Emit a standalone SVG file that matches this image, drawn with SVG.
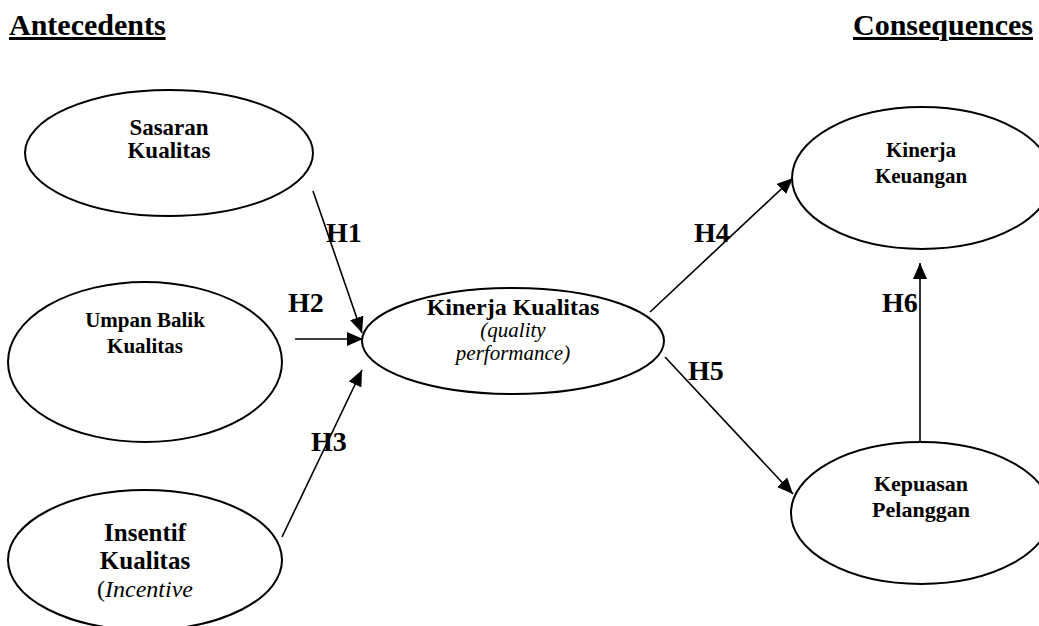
<svg xmlns="http://www.w3.org/2000/svg" width="1039" height="626" viewBox="0 0 1039 626">
<style>
.e{fill:#fff;stroke:#000;stroke-width:2}
.t{font-family:"Liberation Serif","Times New Roman",serif;font-weight:bold;fill:#000;text-anchor:middle}
.i{font-family:"Liberation Serif","Times New Roman",serif;font-style:italic;fill:#000;text-anchor:middle}
.h{font-family:"Liberation Serif","Times New Roman",serif;font-weight:bold;font-size:28px;fill:#000}
.hd{font-family:"Liberation Serif","Times New Roman",serif;font-weight:bold;font-size:30px;fill:#000;text-decoration:underline}
.c{stroke:#000;stroke-width:1.6;fill:none;marker-end:url(#a)}
</style>
<defs>
<marker id="a" markerUnits="userSpaceOnUse" markerWidth="18" markerHeight="14" refX="16" refY="7" orient="auto">
<path d="M0,0 L16,7 L0,14 Z" fill="#000"/>
</marker>
</defs>
<rect width="1039" height="626" fill="#fff"/>
<text class="hd" x="9" y="35">Antecedents</text>
<text class="hd" x="1033" y="35" text-anchor="end">Consequences</text>
<g id="connectors">
<line class="c" x1="313" y1="191" x2="362" y2="333"/>
<line class="c" x1="295" y1="339" x2="363" y2="339"/>
<line class="c" x1="282" y1="537" x2="362" y2="370"/>
<line class="c" x1="650" y1="312" x2="793" y2="178"/>
<line class="c" x1="665" y1="357" x2="793" y2="494"/>
<line class="c" x1="920" y1="453" x2="920" y2="263"/>
</g>
<g id="labels">
<text class="h" x="326" y="242">H1</text>
<text class="h" x="288" y="312">H2</text>
<text class="h" x="311" y="451">H3</text>
<text class="h" x="694" y="242">H4</text>
<text class="h" x="688" y="380">H5</text>
<text class="h" x="882" y="312">H6</text>
</g>
<g id="sasaran">
<ellipse class="e" cx="169" cy="153" rx="144" ry="63"/>
<text class="t" x="169" y="135" font-size="23">Sasaran</text>
<text class="t" x="169" y="158" font-size="23">Kualitas</text>
</g>
<g id="umpan">
<ellipse class="e" cx="145" cy="362" rx="137" ry="80"/>
<text class="t" x="145" y="327" font-size="21">Umpan Balik</text>
<text class="t" x="145" y="353" font-size="21">Kualitas</text>
</g>
<g id="insentif">
<ellipse class="e" cx="145" cy="560" rx="137" ry="70"/>
<text class="t" x="145" y="541" font-size="25">Insentif</text>
<text class="t" x="145" y="569" font-size="25">Kualitas</text>
<text x="145" y="597" font-size="24" text-anchor="middle" font-family="Liberation Serif,Times New Roman,serif">(<tspan font-style="italic">Incentive</tspan></text>
</g>
<g id="kinerja-kualitas">
<ellipse class="e" cx="513" cy="341" rx="151" ry="53"/>
<text class="t" x="513" y="315" font-size="24">Kinerja Kualitas</text>
<text class="i" x="513" y="337" font-size="21">(quality</text>
<text class="i" x="513" y="360" font-size="21">performance)</text>
</g>
<g id="kinerja-keuangan">
<ellipse class="e" cx="922" cy="178" rx="130" ry="71"/>
<text class="t" x="921" y="157" font-size="21">Kinerja</text>
<text class="t" x="921" y="183" font-size="21">Keuangan</text>
</g>
<g id="kepuasan">
<ellipse class="e" cx="921" cy="513" rx="130" ry="71"/>
<text class="t" x="921" y="491" font-size="22">Kepuasan</text>
<text class="t" x="921" y="517" font-size="22">Pelanggan</text>
</g>
</svg>
